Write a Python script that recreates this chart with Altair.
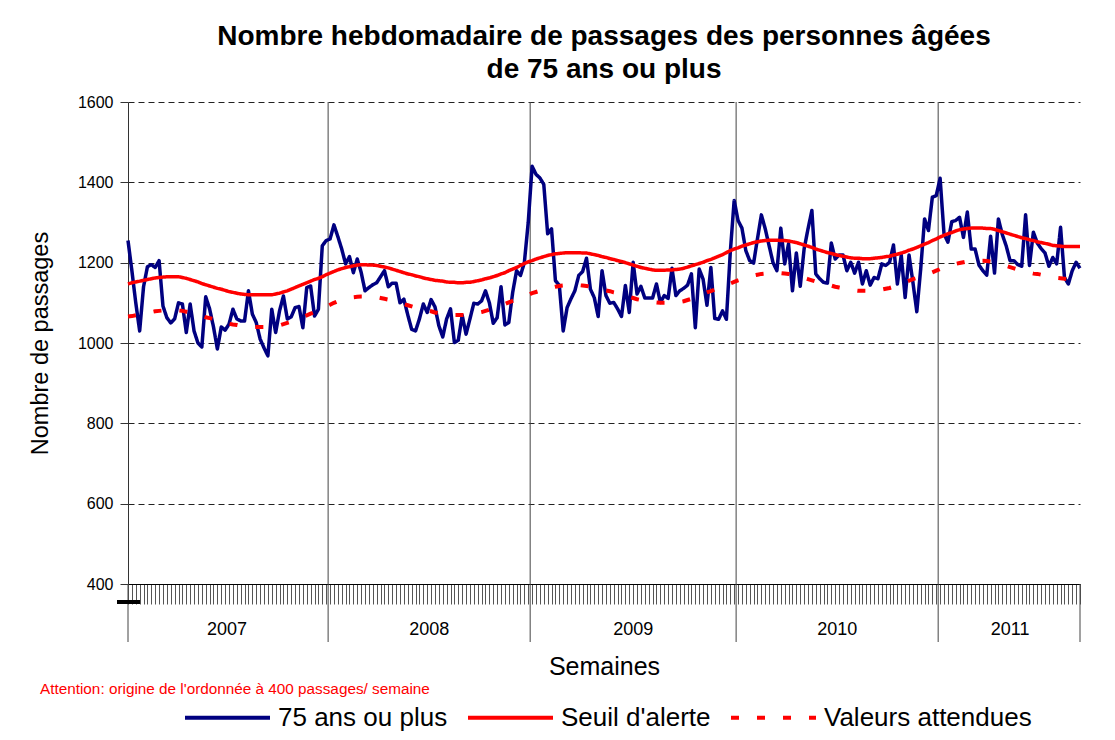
import altair as alt
import pandas as pd

# ---------------- data ----------------
years = ["2007", "2008", "2009", "2010", "2011"]
weeks_per_year = [52, 52, 53, 52, 37]
series_names = ["75 ans ou plus", "Seuil d'alerte", "Valeurs attendues"]
series_colors = ["#000080", "#FF0000", "#FF0000"]
y_ticks = [400, 600, 800, 1000, 1200, 1400, 1600]

title_lines = ["Nombre hebdomadaire de passages des personnes âgées", "de 75 ans ou plus"]
y_title = "Nombre de passages"
x_title = "Semaines"
note = "Attention: origine de l'ordonnée à 400 passages/ semaine"

obs_2007 = [1255, 1180, 1100, 1030, 1140, 1190, 1195, 1188, 1205, 1092,
            1063, 1050, 1060, 1100, 1097, 1026, 1097, 1030, 1000, 990,
            1115, 1085, 1040, 985, 1040, 1032, 1047, 1084, 1060, 1055,
            1055, 1130, 1072, 1051, 1010, 988, 968, 1084, 1026, 1080,
            1117, 1060, 1065, 1088, 1091, 1038, 1138, 1142, 1067, 1084,
            1242, 1255]
obs_2008 = [1259, 1294, 1265, 1234, 1197, 1215, 1175, 1209, 1176, 1130,
            1138, 1145, 1150, 1165, 1180, 1140, 1149, 1149, 1100, 1109,
            1070, 1034, 1030, 1060, 1097, 1076, 1108, 1090, 1043, 1015,
            1060, 1085, 1001, 1007, 1069, 1022, 1060, 1099, 1097, 1105,
            1130, 1100, 1049, 1063, 1140, 1045, 1051, 1126, 1180, 1168,
            1200, 1300]
obs_2009 = [1440, 1420, 1411, 1395, 1272, 1284, 1155, 1144, 1030, 1088,
            1110, 1130, 1168, 1178, 1211, 1134, 1113, 1066, 1180, 1118,
            1099, 1101, 1085, 1066, 1143, 1076, 1201, 1122, 1141, 1112,
            1112, 1112, 1147, 1101, 1118, 1111, 1186, 1118, 1130, 1136,
            1144, 1172, 1038, 1184, 1159, 1094, 1188, 1061, 1059, 1080,
            1059, 1226, 1355]
obs_2010 = [1305, 1286, 1230, 1205, 1199, 1260, 1319, 1284, 1242, 1200,
            1180, 1286, 1197, 1247, 1130, 1224, 1141, 1234, 1284, 1330,
            1172, 1160, 1151, 1149, 1249, 1209, 1219, 1219, 1180, 1201,
            1174, 1201, 1147, 1180, 1144, 1163, 1160, 1197, 1193, 1201,
            1244, 1147, 1219, 1113, 1219, 1151, 1078, 1184, 1309, 1280,
            1363, 1367]
obs_2011 = [1410, 1272, 1251, 1302, 1305, 1313, 1263, 1326, 1234, 1234,
            1194, 1180, 1169, 1266, 1174, 1309, 1270, 1242, 1205, 1205,
            1195, 1191, 1319, 1193, 1276, 1249, 1235, 1224, 1191, 1213,
            1197, 1288, 1163, 1147, 1180, 1201, 1186]

seuil = [1147, 1150, 1152, 1154, 1156, 1158, 1160, 1162, 1163, 1164,
         1165, 1165, 1165, 1165, 1163, 1161, 1158, 1155, 1152, 1148,
         1145, 1142, 1139, 1136, 1134, 1131, 1128, 1126, 1124, 1122,
         1121, 1120, 1120, 1120, 1120, 1120, 1120, 1120, 1122, 1124,
         1127, 1130, 1134, 1138, 1142, 1146, 1150, 1154, 1158, 1161,
         1165, 1170, 1174, 1178, 1182, 1185, 1188, 1190, 1192, 1194,
         1195, 1195, 1194, 1194, 1193, 1191, 1189, 1187, 1184, 1181,
         1178, 1175, 1172, 1170, 1167, 1165, 1162, 1160, 1158, 1156,
         1155, 1154, 1152, 1151, 1151, 1150, 1150, 1151, 1151, 1153,
         1155, 1157, 1160, 1162, 1165, 1168, 1172, 1175, 1180, 1184,
         1188, 1193, 1198, 1202, 1205, 1209, 1212, 1215, 1218, 1220,
         1222, 1223, 1224, 1225, 1225, 1225, 1225, 1224, 1224, 1222,
         1220, 1218, 1215, 1213, 1210, 1208, 1205, 1203, 1200, 1197,
         1194, 1191, 1188, 1186, 1184, 1182, 1181, 1181, 1181, 1182,
         1182, 1183, 1184, 1186, 1189, 1192, 1195, 1198, 1201, 1205,
         1208, 1212, 1216, 1220, 1225, 1230, 1234, 1237, 1241, 1244,
         1247, 1250, 1252, 1254, 1255, 1256, 1256, 1256, 1255, 1255,
         1254, 1252, 1250, 1247, 1244, 1241, 1238, 1234, 1231, 1228,
         1225, 1223, 1220, 1218, 1216, 1214, 1212, 1211, 1211, 1210,
         1210, 1210, 1211, 1212, 1213, 1215, 1216, 1219, 1221, 1224,
         1227, 1231, 1234, 1238, 1242, 1246, 1250, 1255, 1259, 1264,
         1268, 1272, 1275, 1279, 1282, 1284, 1285, 1286, 1286, 1286,
         1286, 1285, 1285, 1283, 1280, 1277, 1274, 1271, 1268, 1265,
         1262, 1260, 1257, 1255, 1252, 1250, 1248, 1246, 1243, 1242,
         1241, 1240, 1240, 1240, 1240, 1240]

attendu = [1066, 1067, 1069, 1071, 1073, 1075, 1077, 1079, 1080, 1081,
           1082, 1082, 1082, 1081, 1080, 1078, 1076, 1073, 1070, 1067,
           1064, 1062, 1060, 1057, 1054, 1051, 1048, 1046, 1045, 1043,
           1042, 1041, 1040, 1040, 1040, 1040, 1040, 1041, 1042, 1044,
           1047, 1050, 1053, 1057, 1061, 1065, 1069, 1073, 1077, 1081,
           1085, 1090, 1095, 1100, 1104, 1107, 1110, 1112, 1114, 1115,
           1116, 1116, 1116, 1115, 1114, 1112, 1110, 1108, 1106, 1103,
           1100, 1097, 1094, 1091, 1088, 1086, 1084, 1081, 1079, 1076,
           1074, 1072, 1071, 1070, 1070, 1070, 1070, 1070, 1071, 1073,
           1075, 1077, 1080, 1083, 1086, 1089, 1093, 1097, 1101, 1105,
           1108, 1112, 1116, 1120, 1124, 1127, 1130, 1133, 1136, 1138,
           1140, 1142, 1143, 1144, 1144, 1144, 1144, 1143, 1142, 1140,
           1138, 1136, 1134, 1131, 1129, 1126, 1124, 1121, 1118, 1115,
           1112, 1109, 1107, 1104, 1102, 1101, 1101, 1100, 1100, 1100,
           1101, 1101, 1102, 1104, 1107, 1110, 1114, 1118, 1122, 1126,
           1129, 1133, 1136, 1140, 1144, 1148, 1152, 1156, 1159, 1162,
           1165, 1168, 1170, 1172, 1173, 1174, 1174, 1174, 1174, 1173,
           1172, 1170, 1168, 1165, 1162, 1159, 1156, 1153, 1150, 1147,
           1145, 1143, 1140, 1138, 1136, 1134, 1132, 1131, 1130, 1130,
           1130, 1130, 1131, 1132, 1133, 1135, 1137, 1140, 1143, 1147,
           1151, 1155, 1159, 1162, 1165, 1168, 1172, 1176, 1180, 1184,
           1188, 1191, 1194, 1197, 1199, 1201, 1203, 1204, 1205, 1205,
           1205, 1204, 1203, 1201, 1198, 1195, 1192, 1189, 1186, 1183,
           1180, 1177, 1175, 1173, 1172, 1170, 1168, 1166, 1164, 1162,
           1161, 1160, 1159, 1158, 1158, 1158]

# ---------------- tables ----------------
obs = obs_2007 + obs_2008 + obs_2009 + obs_2010 + obs_2011
n = len(obs)

rows = []
for name, vals in zip(series_names, [obs, seuil, attendu]):
    for i, v in enumerate(vals):
        rows.append({"semaine": i, "valeur": v, "serie": name})
df = pd.DataFrame(rows)

starts, s = [], 0
for w in weeks_per_year:
    starts.append(s)
    s += w
year_df = pd.DataFrame({
    "annee": years,
    "mid": [st + (w - 1) / 2 for st, w in zip(starts, weeks_per_year)],
})
inner_df = pd.DataFrame({"b": [st - 0.5 for st in starts[1:]]})
outer_df = pd.DataFrame({"b": [0, n - 1]})
note_df = pd.DataFrame({"t": [note]})

FONT = "Liberation Sans"
xscale = alt.Scale(domain=[0, n - 1], nice=False, zero=False)
yscale = alt.Scale(domain=[400, 1600], nice=False, zero=False)

legend = alt.Legend(
    title=None, orient="none", legendX=55, legendY=571, direction="horizontal",
    symbolType="stroke", symbolSize=7225, symbolStrokeWidth=4,
    labelFontSize=26, labelFont=FONT, labelColor="black", labelOffset=6,
    columnPadding=12, padding=0, labelLimit=400,
)
color_enc = alt.Color("serie:N", scale=alt.Scale(domain=series_names, range=series_colors),
                      legend=legend, sort=series_names)
dash_enc = alt.StrokeDash("serie:N", scale=alt.Scale(domain=series_names,
                          range=[[1, 0], [1, 0], [8, 18]]), legend=legend, sort=series_names)

x_axis = alt.Axis(values=list(range(n)), labels=False, tickSize=20, tickColor="#555",
                  tickWidth=1, domainColor="black", grid=False, title=x_title,
                  titleFontSize=25, titleFont=FONT, titleFontWeight="normal",
                  titleColor="black", titleY=82, titleBaseline="middle")
y_axis = alt.Axis(values=y_ticks, title=y_title, titleFontSize=23.5, titleFont=FONT,
                  titleFontWeight="normal", titleColor="black", titleX=-88, titleY=241,
                  titleBaseline="middle", titleAngle=270,
                  labelFontSize=16, labelFont=FONT, labelColor="black", labelPadding=7,
                  tickSize=8, tickColor="#333", domainColor="#333",
                  grid=True, gridDash=[6, 4], gridColor="#222", gridWidth=1, format="d")

widths = [3.5, 3.5, 4]
line_layers = []
for name, sw in zip(series_names, widths):
    lyr = alt.Chart(df).transform_filter(alt.datum.serie == name).mark_line(
        strokeWidth=sw, strokeCap="butt", strokeJoin="round"
    ).encode(
        x=alt.X("semaine:Q", scale=xscale, axis=x_axis),
        y=alt.Y("valeur:Q", scale=yscale, axis=y_axis),
        color=color_enc,
        strokeDash=dash_enc,
    )
    line_layers.append(lyr)

inner_rules = alt.Chart(inner_df).mark_rule(color="#444", strokeWidth=1).encode(
    x=alt.X("b:Q", scale=xscale, axis=x_axis), y=alt.value(0), y2=alt.value(540))
outer_rules = alt.Chart(outer_df).mark_rule(color="#444", strokeWidth=1).encode(
    x=alt.X("b:Q", scale=xscale, axis=x_axis), y=alt.value(482), y2=alt.value(540))
year_text = alt.Chart(year_df).mark_text(fontSize=18, font=FONT, color="black",
                                          baseline="middle").encode(
    x=alt.X("mid:Q", scale=xscale, axis=x_axis), y=alt.value(528), text="annee:N")
note_text = alt.Chart(note_df).mark_text(fontSize=15.3, font=FONT, color="#FF0000",
                                          align="left", baseline="middle").encode(
    x=alt.value(-88), y=alt.value(587), text="t:N")
stray = alt.Chart(note_df).mark_rule(color="black", strokeWidth=4).encode(
    x=alt.value(-11), x2=alt.value(12), y=alt.value(500))

chart = alt.layer(
    inner_rules, outer_rules, *line_layers, year_text, note_text, stray
).resolve_scale(x="shared", y="shared").properties(
    width=952, height=482,
    padding={"left": 120, "top": 94, "right": 27, "bottom": 148},
    autosize=alt.AutoSizeParams(type="none"),
    title=alt.Title(text=title_lines, fontSize=28, font=FONT, fontWeight="bold",
                    anchor="middle", offset=10, lineHeight=33, color="black"),
    background="white",
).configure_view(stroke=None)

chart.save("out.html", embed_options={"renderer": "svg", "actions": False})
